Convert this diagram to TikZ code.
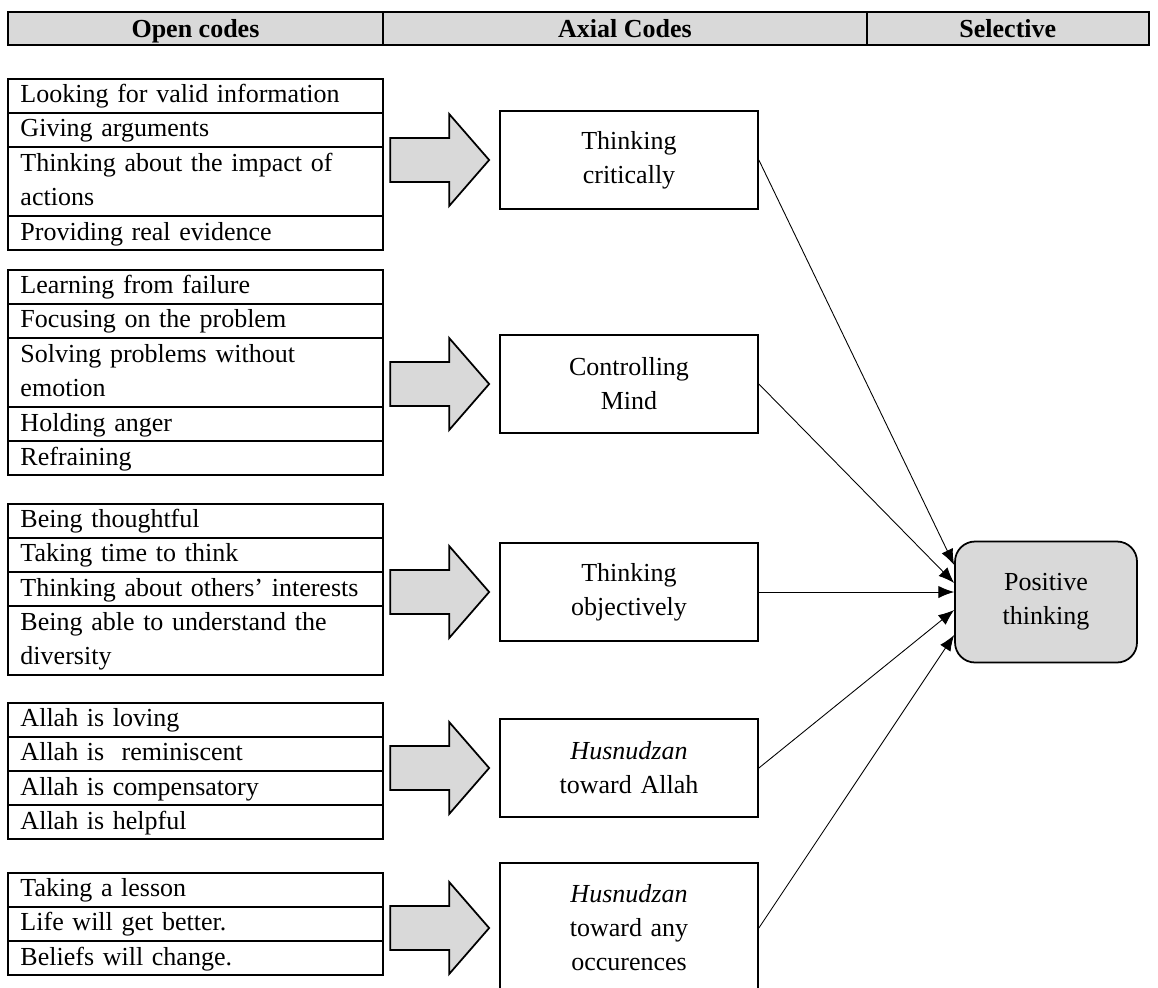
\documentclass[tikz,border=0pt]{standalone}
\usepackage{fontspec}
\setmainfont{Liberation Serif}
\usepackage{xcolor}
\usepackage{tikz}
\usetikzlibrary{positioning,calc,arrows.meta}

\definecolor{boxgray}{HTML}{D9D9D9}
\newcommand{\codefont}{\fontsize{14.8}{19.4}\selectfont}
\newcommand{\fatarrow}[1]{%
  \draw[bigarr] ($(#1.west)+(-109,-22)$) -- ++(59,0) -- ++(0,-24) -- ++(40,46)
    -- ++(-40,46) -- ++(0,-24) -- ++(-59,0) -- cycle;}

\tikzset{
  hcell/.style={draw, line width=1pt, fill=boxgray, minimum height=0.66cm,
    text height=12pt, text depth=1.6pt, inner sep=0pt, outer sep=0pt,
    font=\bfseries\codefont},
  rowbox/.style={draw, line width=1pt, text width=7cm, inner xsep=0.25cm,
    inner ysep=0pt, outer sep=0pt, align=left, minimum height=0.68cm, font=\codefont,
    execute at begin node=\strut, execute at end node=\strut},
  tworow/.style={minimum height=1.38cm},
  axbox/.style={draw, line width=1pt, text width=4.6cm, align=center,
    minimum width=5.16cm, minimum height=1.96cm, font=\codefont},
  posbox/.style={draw, line width=1pt, fill=boxgray, rounded corners=0.4cm,
    minimum width=3.64cm, minimum height=2.42cm, align=center, font=\codefont},
  bigarr/.style={line width=1pt, fill=boxgray, draw, line join=miter},
  link/.style={line width=0.5pt, -{Latex[length=9pt,width=7pt]}}
}

\begin{document}
\begin{tikzpicture}[x=0.02cm, y=-0.02cm]
      \clip (0,0) rectangle (1158,987);
      % header
      \node[hcell, anchor=north west, minimum width=7.5cm] (h1) at (8,12) {Open codes};
      \node[hcell, right=0pt of h1, minimum width=9.68cm] (h2) {Axial Codes};
      \node[hcell, right=0pt of h2, minimum width=5.64cm] (h3) {Selective};
      % open codes
      \node[rowbox, anchor=north west] (t11) at (8,79) {Looking for valid information};
      \node[rowbox, below=0pt of t11] (t12) {Giving arguments};
      \node[rowbox, tworow, below=0pt of t12] (t13) {Thinking about the impact of\\actions};
      \node[rowbox, below=0pt of t13] (t14) {Providing real evidence};
      \node[rowbox, anchor=north west] (t21) at (8,270) {Learning from failure};
      \node[rowbox, below=0pt of t21] (t22) {Focusing on the problem};
      \node[rowbox, tworow, below=0pt of t22] (t23) {Solving problems without\\emotion};
      \node[rowbox, below=0pt of t23] (t24) {Holding anger};
      \node[rowbox, below=0pt of t24] (t25) {Refraining};
      \node[rowbox, anchor=north west] (t31) at (8,504) {Being thoughtful};
      \node[rowbox, below=0pt of t31] (t32) {Taking time to think};
      \node[rowbox, below=0pt of t32] (t33) {Thinking about others’ interests};
      \node[rowbox, tworow, below=0pt of t33] (t34) {Being able to understand the\\diversity};
      \node[rowbox, anchor=north west] (t41) at (8,703) {Allah is loving};
      \node[rowbox, below=0pt of t41] (t42) {Allah is \ reminiscent};
      \node[rowbox, below=0pt of t42] (t43) {Allah is compensatory};
      \node[rowbox, below=0pt of t43] (t44) {Allah is helpful};
      \node[rowbox, anchor=north west] (t51) at (8,873) {Taking a lesson};
      \node[rowbox, below=0pt of t51] (t52) {Life will get better.};
      \node[rowbox, below=0pt of t52] (t53) {Beliefs will change.};
      % axial codes
      \node[axbox] (b1) at (629,160) {Thinking\\critically};
      \node[axbox] (b2) at (629,384) {Controlling\\Mind};
      \node[axbox] (b3) at (629,592) {Thinking\\objectively};
      \node[axbox] (b4) at (629,768) {\textit{Husnudzan}\\toward Allah};
      \node[axbox, minimum height=2.6cm] (b5) at (629,928) {\textit{Husnudzan}\\toward any\\occurences};
      \fatarrow{b1}
      \fatarrow{b2}
      \fatarrow{b3}
      \fatarrow{b4}
      \fatarrow{b5}
      % selective
      \node[posbox] (pos) at (1046,602) {Positive\\thinking};
      \draw[link] (b1.east) -- ($(pos.west)+(0,-37)$);
      \draw[link] (b2.east) -- ($(pos.west)+(0,-19)$);
      \draw[link] (b3.east) -- (b3.east -| pos.west);
      \draw[link] (b4.east) -- ($(pos.west)+(0,8)$);
      \draw[link] (b5.east) -- ($(pos.west)+(0,33)$);
    \end{tikzpicture}
\end{document}
